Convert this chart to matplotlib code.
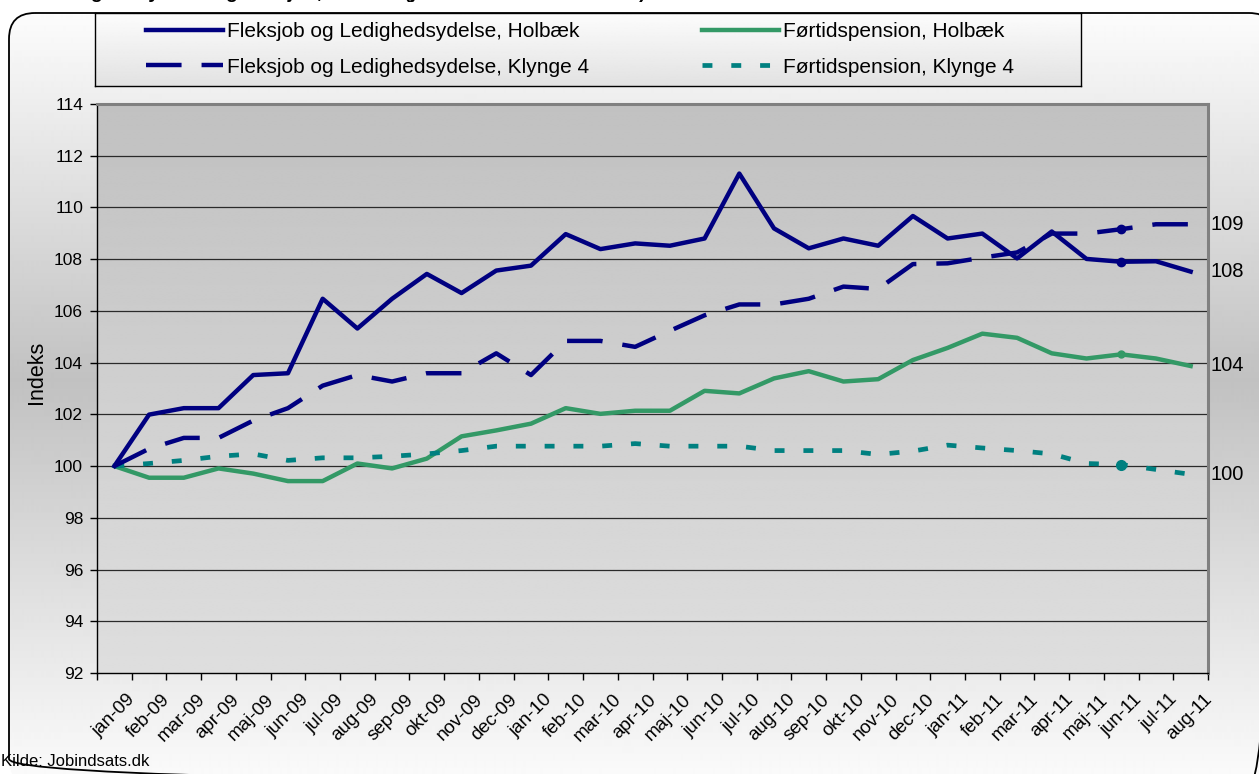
import numpy as np
import matplotlib
matplotlib.use("Agg")
import matplotlib.pyplot as plt
from matplotlib.patches import FancyBboxPatch
from matplotlib.lines import Line2D
import matplotlib.transforms as mtransforms

# ---------------- data ----------------
months = ["jan-09", "feb-09", "mar-09", "apr-09", "maj-09", "jun-09", "jul-09", "aug-09",
          "sep-09", "okt-09", "nov-09", "dec-09", "jan-10", "feb-10", "mar-10", "apr-10",
          "maj-10", "jun-10", "jul-10", "aug-10", "sep-10", "okt-10", "nov-10", "dec-10",
          "jan-11", "feb-11", "mar-11", "apr-11", "maj-11", "jun-11", "jul-11", "aug-11"]

flex_holbaek = [100.0, 101.99, 102.24, 102.24, 103.52, 103.59, 106.47, 105.32,
                106.47, 107.43, 106.69, 107.56, 107.75, 108.97, 108.39, 108.61,
                108.52, 108.80, 111.31, 109.19, 108.42, 108.80, 108.52, 109.67,
                108.80, 108.99, 108.03, 109.07, 108.01, 107.90, 107.92, 107.52]

flex_klynge4 = [100.0, 100.67, 101.09, 101.09, 101.76, 102.24, 103.11, 103.52,
                103.27, 103.59, 103.59, 104.36, 103.52, 104.84, 104.84, 104.61,
                105.23, 105.83, 106.25, 106.25, 106.47, 106.94, 106.85, 107.81,
                107.84, 108.06, 108.26, 108.99, 108.99, 109.16, 109.35, 109.35]

fp_holbaek = [100.0, 99.55, 99.55, 99.91, 99.71, 99.42, 99.42, 100.10,
              99.91, 100.29, 101.15, 101.38, 101.64, 102.24, 102.02, 102.14,
              102.14, 102.91, 102.81, 103.39, 103.67, 103.27, 103.36, 104.10,
              104.57, 105.12, 104.96, 104.36, 104.16, 104.32, 104.16, 103.87]

fp_klynge4 = [100.0, 100.10, 100.22, 100.38, 100.47, 100.22, 100.32, 100.32,
              100.38, 100.47, 100.60, 100.77, 100.77, 100.77, 100.77, 100.87,
              100.77, 100.77, 100.77, 100.60, 100.60, 100.60, 100.45, 100.58,
              100.81, 100.70, 100.60, 100.47, 100.10, 100.06, 99.87, 99.68]

series_labels = ["Fleksjob og Ledighedsydelse, Holbæk",
                 "Fleksjob og Ledighedsydelse, Klynge 4",
                 "Førtidspension, Holbæk",
                 "Førtidspension, Klynge 4"]

y_ticks = [92, 94, 96, 98, 100, 102, 104, 106, 108, 110, 112, 114]
title_text = "Ledighedsydelse og fleksjob, Holbæk (januar 2009 = indeks 100)"
source_text = "Kilde: Jobindsats.dk"
ylabel_text = "Indeks"

# ---------------- figure ----------------
W, H = 1259, 774
DPI = 100
plt.rcParams['font.family'] = ['Liberation Sans', 'DejaVu Sans']
fig = plt.figure(figsize=(W / DPI, H / DPI), dpi=DPI)
fig.patch.set_facecolor('white')

def fx(px):
    return px / W

def fy(py):
    return 1 - py / H

# background axes in pixel coordinates
bg = fig.add_axes([0, 0, 1, 1], zorder=-10)
bg.set_xlim(0, W)
bg.set_ylim(H, 0)
bg.axis('off')
yy = np.arange(H)
vals = np.interp(yy, [0, 13, 380, 774], [255, 252, 193, 250])
grad = np.repeat(vals[:, None], 2, axis=1)
im = bg.imshow(grad, cmap='gray', vmin=0, vmax=255, extent=(0, W, H, 0),
               aspect='auto', interpolation='bilinear')
box = FancyBboxPatch((9, 13), 1275 - 9, 785 - 13,
                     boxstyle="round,pad=0,rounding_size=26",
                     facecolor='none', edgecolor='black', lw=1.3)
bg.add_patch(box)
im.set_clip_path(box)

# title, almost entirely above the top edge as in the original
fig.text(fx(646), fy(-2.5), title_text, ha='right', va='baseline',
         fontsize=14, fontweight='bold', color='black')

# ---------------- main plot ----------------
L, R, T, B = 97, 1208, 104, 673
ax = fig.add_axes([fx(L), fy(B), fx(R - L), (B - T) / H])
x = np.arange(len(months))

pg = np.linspace(193, 222, 256)[:, None]
ax.imshow(np.repeat(pg, 2, axis=1), cmap='gray', vmin=0, vmax=255,
          extent=(-0.5, len(months) - 0.5, 92, 114), aspect='auto',
          interpolation='bilinear', zorder=0)

ax.set_xlim(-0.5, len(months) - 0.5)
ax.set_ylim(92, 114)
ax.set_yticks(y_ticks)
ax.set_yticklabels([str(v) for v in y_ticks], fontsize=12.5)
for v in y_ticks[1:-1]:
    ax.axhline(v, color='#2a2a2a', lw=0.9, zorder=1)

navy = '#000080'
green = '#339966'
teal = '#008080'

l1, = ax.plot(x, flex_holbaek, color=navy, lw=3.2, zorder=4,
              marker='o', markevery=[29], ms=6)
l2, = ax.plot(x, flex_klynge4, color=navy, lw=3.2, zorder=4,
              marker='o', markevery=[29], ms=6)
l2.set_dashes((8.0, 4.5))
l3, = ax.plot(x, fp_holbaek, color=green, lw=3.2, zorder=3,
              marker='o', markevery=[29], ms=5)
l4, = ax.plot(x, fp_klynge4, color=teal, lw=3.4, zorder=3,
              marker='o', markevery=[29], ms=7)
l4.set_dashes((2.1, 4.0))

# end value labels
for ser in [flex_klynge4, flex_holbaek, fp_holbaek, fp_klynge4]:
    ax.annotate(f"{ser[-1]:.0f}", xy=(x[-1], ser[-1]), xytext=(14.5, 0),
                textcoords='offset points', ha='left', va='center',
                fontsize=14.5, annotation_clip=False)

# spines
for s in ['left', 'bottom']:
    ax.spines[s].set_color('black')
    ax.spines[s].set_linewidth(1.0)
for s in ['top', 'right']:
    ax.spines[s].set_color('#808080')
    ax.spines[s].set_linewidth(2.2)

ax.tick_params(axis='y', direction='out', length=5, width=1, pad=5, colors='black')
ax.set_xticks(x)
ax.set_xticks(np.arange(-0.5, len(months)), minor=True)
ax.tick_params(axis='x', which='major', length=0, pad=13)
ax.tick_params(axis='x', which='minor', direction='out', length=5, width=1, color='black')
ax.set_xticklabels(months, rotation=45, ha='right', va='top', rotation_mode='anchor',
                   fontsize=13.5)
offset = mtransforms.ScaledTranslation(9 / 72, 0, fig.dpi_scale_trans)
for lab in ax.get_xticklabels():
    lab.set_transform(lab.get_transform() + offset)

fig.text(fx(36), fy(372), ylabel_text, rotation=90, ha='center', va='center', fontsize=15.5)
fig.text(fx(1), fy(762), source_text, ha='left', va='center', fontsize=12)

# ---------------- legend ----------------
lg_l, lg_t, lg_r, lg_b = 95, 13, 1081, 86
lax = fig.add_axes([fx(lg_l), fy(lg_b), fx(lg_r - lg_l), (lg_b - lg_t) / H], zorder=2)
lgrad = np.linspace(252, 226, 64)[:, None]
lax.imshow(np.repeat(lgrad, 2, axis=1), cmap='gray', vmin=0, vmax=255,
           extent=(0, 1, 0, 1), aspect='auto', interpolation='bilinear')
lax.set_xticks([])
lax.set_yticks([])
for s in lax.spines.values():
    s.set_color('black')
    s.set_linewidth(1.0)

h1 = Line2D([], [], color=navy, lw=3.2)
h2 = Line2D([], [], color=navy, lw=3.2)
h2.set_dashes((8.0, 4.5))
h3 = Line2D([], [], color=green, lw=3.2)
h4 = Line2D([], [], color=teal, lw=3.4)
h4.set_dashes((2.1, 4.0))
leg = fig.legend([h1, h2, h3, h4], series_labels, ncol=2, loc='upper left',
                 bbox_to_anchor=(fx(146), fy(22)), frameon=False, borderpad=0,
                 borderaxespad=0, handlelength=3.7, handletextpad=0.2,
                 columnspacing=5.4, labelspacing=0.8, fontsize=15)
leg.set_zorder(10)

fig.savefig("out.png", dpi=DPI)
